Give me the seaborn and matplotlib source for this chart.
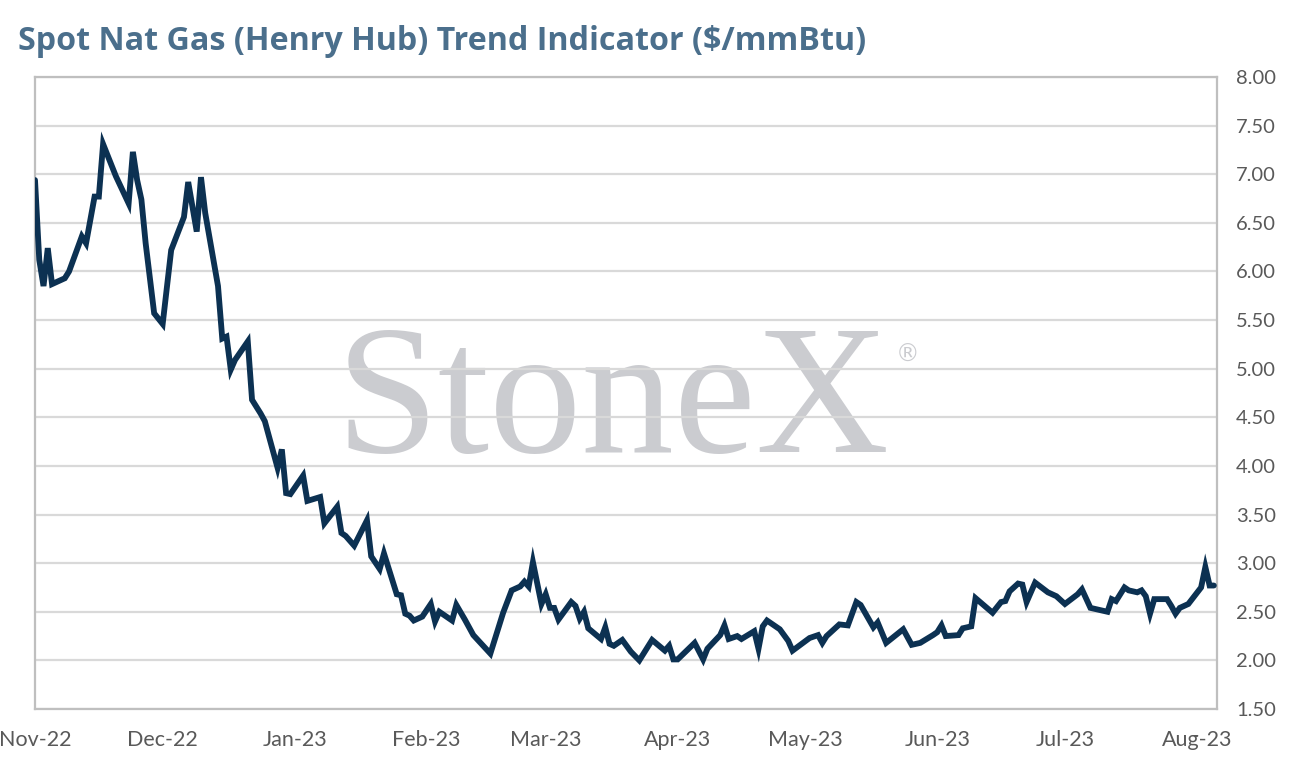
import pandas as pd
import matplotlib.pyplot as plt
import matplotlib.dates as mdates
import seaborn as sns

# Henry Hub spot, $/mmBtu
dates = [
    "2022-11-01", "2022-11-02", "2022-11-03", "2022-11-04", "2022-11-05", "2022-11-08",
    "2022-11-09", "2022-11-12", "2022-11-13", "2022-11-15", "2022-11-16", "2022-11-17",
    "2022-11-20", "2022-11-23", "2022-11-24", "2022-11-25", "2022-11-26", "2022-11-27",
    "2022-11-29", "2022-12-01", "2022-12-03", "2022-12-06", "2022-12-07", "2022-12-09",
    "2022-12-10", "2022-12-11", "2022-12-14", "2022-12-15", "2022-12-16", "2022-12-17",
    "2022-12-18", "2022-12-21", "2022-12-22", "2022-12-24", "2022-12-25", "2022-12-28",
    "2022-12-29", "2022-12-30", "2022-12-31", "2023-01-03", "2023-01-04", "2023-01-07",
    "2023-01-08", "2023-01-11", "2023-01-12", "2023-01-13", "2023-01-15", "2023-01-18",
    "2023-01-19", "2023-01-21", "2023-01-22", "2023-01-25", "2023-01-26", "2023-01-27",
    "2023-01-28", "2023-01-29", "2023-01-31", "2023-02-02", "2023-02-03", "2023-02-04",
    "2023-02-07", "2023-02-08", "2023-02-10", "2023-02-12", "2023-02-16", "2023-02-19",
    "2023-02-21", "2023-02-23", "2023-02-24", "2023-02-25", "2023-02-26", "2023-02-28",
    "2023-03-01", "2023-03-02", "2023-03-03", "2023-03-04", "2023-03-07", "2023-03-08",
    "2023-03-09", "2023-03-10", "2023-03-11", "2023-03-14", "2023-03-15", "2023-03-16",
    "2023-03-17", "2023-03-19", "2023-03-21", "2023-03-23", "2023-03-26", "2023-03-29",
    "2023-03-30", "2023-03-31", "2023-04-01", "2023-04-05", "2023-04-07", "2023-04-08",
    "2023-04-11", "2023-04-12", "2023-04-13", "2023-04-15", "2023-04-16", "2023-04-19",
    "2023-04-20", "2023-04-21", "2023-04-22", "2023-04-25", "2023-04-27", "2023-04-28",
    "2023-05-02", "2023-05-04", "2023-05-05", "2023-05-06", "2023-05-09", "2023-05-11",
    "2023-05-13", "2023-05-14", "2023-05-17", "2023-05-18", "2023-05-20", "2023-05-24",
    "2023-05-26", "2023-05-28", "2023-05-31", "2023-06-01", "2023-06-02", "2023-06-03",
    "2023-06-06", "2023-06-07", "2023-06-09", "2023-06-10", "2023-06-14", "2023-06-16",
    "2023-06-17", "2023-06-18", "2023-06-20", "2023-06-21", "2023-06-22", "2023-06-24",
    "2023-06-27", "2023-06-29", "2023-07-01", "2023-07-04", "2023-07-05", "2023-07-07",
    "2023-07-11", "2023-07-12", "2023-07-13", "2023-07-15", "2023-07-16", "2023-07-18",
    "2023-07-19", "2023-07-20", "2023-07-21", "2023-07-22", "2023-07-25", "2023-07-26",
    "2023-07-27", "2023-07-28", "2023-07-30", "2023-08-02", "2023-08-03", "2023-08-04",
    "2023-08-05",
]
prices = [
    6.94, 6.12, 5.85, 6.24, 5.87, 5.93,
    6.00, 6.36, 6.29, 6.77, 6.77, 7.31,
    6.98, 6.70, 7.23, 6.94, 6.74, 6.29,
    5.57, 5.46, 6.22, 6.56, 6.92, 6.41,
    6.97, 6.60, 5.85, 5.31, 5.33, 4.99,
    5.09, 5.28, 4.68, 4.54, 4.46, 3.98,
    4.17, 3.72, 3.71, 3.90, 3.64, 3.68,
    3.41, 3.58, 3.31, 3.28, 3.18, 3.44,
    3.07, 2.94, 3.10, 2.68, 2.67, 2.48,
    2.46, 2.41, 2.45, 2.58, 2.40, 2.50,
    2.41, 2.57, 2.42, 2.26, 2.07, 2.49,
    2.72, 2.76, 2.81, 2.76, 3.01, 2.58,
    2.68, 2.54, 2.54, 2.42, 2.60, 2.56,
    2.43, 2.50, 2.33, 2.22, 2.34, 2.17,
    2.15, 2.21, 2.09, 2.00, 2.21, 2.10,
    2.15, 2.01, 2.01, 2.18, 2.01, 2.12,
    2.26, 2.36, 2.22, 2.25, 2.22, 2.30,
    2.12, 2.35, 2.41, 2.32, 2.20, 2.10,
    2.23, 2.26, 2.18, 2.25, 2.37, 2.36,
    2.60, 2.57, 2.34, 2.39, 2.18, 2.32,
    2.16, 2.18, 2.26, 2.29, 2.36, 2.25,
    2.26, 2.33, 2.35, 2.64, 2.49, 2.60,
    2.61, 2.71, 2.79, 2.78, 2.60, 2.80,
    2.70, 2.66, 2.58, 2.68, 2.73, 2.54,
    2.50, 2.63, 2.61, 2.75, 2.72, 2.70,
    2.72, 2.66, 2.48, 2.63, 2.63, 2.56,
    2.48, 2.54, 2.58, 2.75, 2.96, 2.77,
    2.77,
]
month_ticks = ["2022-11-01", "2022-12-01", "2023-01-01", "2023-02-01", "2023-03-01",
               "2023-04-01", "2023-05-01", "2023-06-01", "2023-07-01", "2023-08-01"]
y_ticks = [1.5, 2.0, 2.5, 3.0, 3.5, 4.0, 4.5, 5.0, 5.5, 6.0, 6.5, 7.0, 7.5, 8.0]

df = pd.DataFrame({"date": pd.to_datetime(dates), "price": prices})

sns.set_style("white")
plt.rcParams["font.family"] = ["Lato", "DejaVu Sans"]

fig = plt.figure(figsize=(12.94, 7.71), dpi=100)
ax = fig.add_axes([35 / 1294, 1 - 709 / 771, (1216.7 - 35) / 1294, (709 - 77) / 771])

sns.lineplot(data=df, x="date", y="price", ax=ax, color="#0c3152", linewidth=4.2,
             solid_joinstyle="miter", zorder=3)

ax.set_xlim(pd.Timestamp("2022-11-01"), pd.Timestamp("2023-08-05 16:00"))
ax.set_ylim(1.5, 8.0)
ax.set_xticks(pd.to_datetime(month_ticks))
ax.xaxis.set_major_formatter(mdates.DateFormatter("%b-%y"))
ax.set_yticks(y_ticks)
ax.set_yticklabels([f"{v:.2f}" for v in y_ticks])
ax.yaxis.tick_right()
ax.tick_params(axis="both", length=0, labelcolor="#595959")
ax.tick_params(axis="x", pad=15, labelsize=15.5)
ax.tick_params(axis="y", pad=14, labelsize=14.5)
ax.set_xlabel("")
ax.set_ylabel("")

ax.set_axisbelow(True)
ax.grid(axis="y", color="#d9d9d9", linewidth=1.6, zorder=1)
for s in ax.spines.values():
    s.set_color("#bfbfbf")
    s.set_linewidth(1.6)

# watermark sits under the gridlines
ax.text((336 - 35) / 1181.7, (709 - 451.7) / 632, "StoneX", transform=ax.transAxes,
        fontsize=133, family="Liberation Serif", color="#cbccd0", ha="left",
        va="baseline", zorder=0.2)
ax.text((908 - 35) / 1181.7, (709 - 355) / 632, "\u00ae", transform=ax.transAxes,
        fontsize=17, family="DejaVu Sans", color="#cbccd0", ha="center",
        va="center", zorder=0.2)

fig.text(18 / 1294, 1 - 50 / 771, "Spot Nat Gas (Henry Hub) Trend Indicator ($/mmBtu)",
         fontsize=23.2, fontweight="bold", family=["Open Sans", "DejaVu Sans"],
         color="#4b6f8c", ha="left", va="baseline")

fig.savefig("out.png", dpi=100)
